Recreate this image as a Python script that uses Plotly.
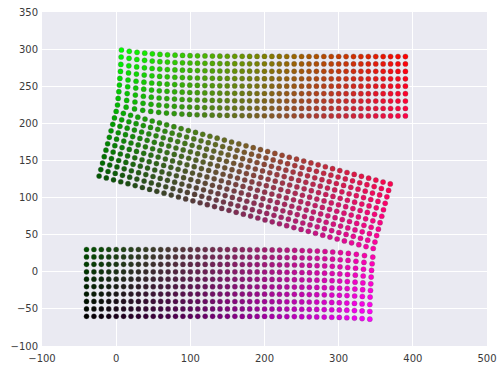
import numpy as np
import plotly.graph_objects as go

# ---- data ----
n_cols = 39
col_step = 10
bottom_x0 = -40
top_x0 = 10
bottom_rows_y = [-60, -50, -40, -30, -20, -10, 0, 10, 20, 30]
top_rows_y = [210, 220, 230, 240, 250, 260, 270, 280, 290]
mid_rows = 11
mid_origin = (0.0, 216.0)      # left end of the upper row of the tilted band
mid_angle_deg = 14.8           # clockwise tilt of the middle band
mid_row_step = 9.0
mid_col_step = 10.06

# left ends of the upper band rows (bottom to top)
top_left_x = [1.8, 2.7, 3.6, 4.4, 5.0, 5.8, 6.3, 6.7, 7.1]
top_left_y = [224.7, 233.6, 242.6, 251.6, 260.5, 269.9, 279.4, 289.4, 298.8]
# right ends of the lower band rows (bottom to top)
bot_right_x = [342, 342, 342, 342.4, 342.9, 343.3, 343.8, 344.3, 345.1, 346]
bot_right_y = [-63.8, -53.5, -44.1, -34.1, -25.2, -16.2, -7.1, 1.8, 10.8, 19.8]
bend_decay = 4.5

n_rows = len(bottom_rows_y) + mid_rows + len(top_rows_y)

xs, ys, cols = [], [], []


def colour(i, j):
    u = i / (n_cols - 1)
    v = j / (n_rows - 1)
    r = u
    g = (1 - u) * v
    b = u * (1 - v)
    return "rgb(%d,%d,%d)" % (round(255 * r), round(255 * g), round(255 * b))


last = n_cols - 1
# lower band
for j, yv in enumerate(bottom_rows_y):
    rx = bottom_x0 + col_step * last
    dx = bot_right_x[j] - rx
    dy = bot_right_y[j] - yv
    for i in range(n_cols):
        f = np.exp(-(last - i) / bend_decay)
        xs.append(bottom_x0 + col_step * i + dx * f)
        ys.append(yv + dy * f)
        cols.append(colour(i, j))

# middle tilted band
th = np.radians(mid_angle_deg)
e1 = (np.cos(th), -np.sin(th))
e2 = (np.sin(th), np.cos(th))
for m in range(mid_rows):
    j = len(bottom_rows_y) + m
    k = m - (mid_rows - 1)
    for i in range(n_cols):
        xs.append(mid_origin[0] + i * mid_col_step * e1[0] + k * mid_row_step * e2[0])
        ys.append(mid_origin[1] + i * mid_col_step * e1[1] + k * mid_row_step * e2[1])
        cols.append(colour(i, j))

# upper band
for t, yv in enumerate(top_rows_y):
    j = len(bottom_rows_y) + mid_rows + t
    dx = top_left_x[t] - top_x0
    dy = top_left_y[t] - yv
    for i in range(n_cols):
        f = np.exp(-i / bend_decay)
        xs.append(top_x0 + col_step * i + dx * f)
        ys.append(yv + dy * f)
        cols.append(colour(i, j))

fig = go.Figure(go.Scatter(
    x=xs, y=ys, mode="markers",
    marker=dict(size=5.2, color=cols, line=dict(width=0.5, color="rgba(90,90,90,0.6)")),
    hoverinfo="skip",
))

axis_common = dict(
    showgrid=True, gridcolor="white", gridwidth=1, zeroline=False, automargin=False,
    showline=False, ticks="", tickfont=dict(family="DejaVu Sans", size=10, color="#3a3a3a"),
)
fig.update_layout(
    width=504, height=371,
    margin=dict(l=42, r=17, t=12, b=25),
    paper_bgcolor="white", plot_bgcolor="#EAEAF2",
    showlegend=False,
    xaxis=dict(range=[-100, 500], tickvals=[-100, 0, 100, 200, 300, 400, 500],
               ticklabelstandoff=5, **axis_common),
    yaxis=dict(range=[-100, 350], tickvals=[-100, -50, 0, 50, 100, 150, 200, 250, 300, 350],
               ticklabelstandoff=3, **axis_common),
)
fig.write_html(
    "out.html",
    config={"displayModeBar": False, "staticPlot": True},
    post_script="document.body.style.margin='0';document.body.style.overflow='hidden';",
)
